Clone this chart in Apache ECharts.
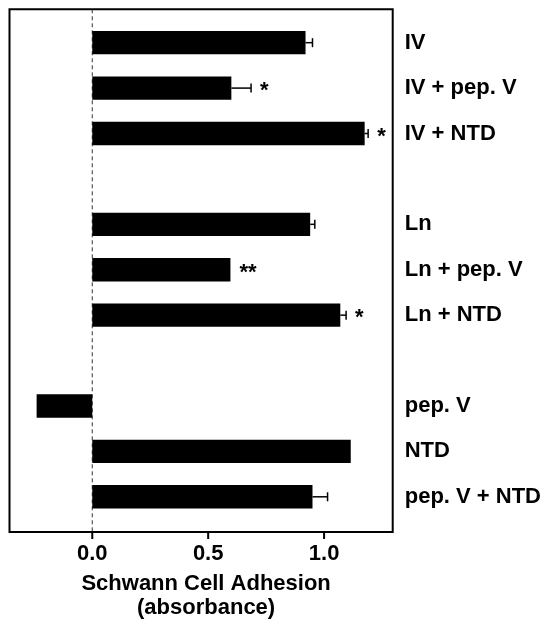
<!DOCTYPE html>
<html>
<head>
<meta charset="utf-8">
<script src="https://cdn.jsdelivr.net/npm/echarts@6/dist/echarts.min.js"></script>
<style>
  html, body { margin: 0; padding: 0; background: #fff; }
  #chart { width: 544px; height: 625px; }
</style>
</head>
<body>
<div id="chart"></div>
<script>
// categories top to bottom, empty strings are the gaps between groups
let categories = ['IV', 'IV + pep. V', 'IV + NTD', '', 'Ln', 'Ln + pep. V', 'Ln + NTD', '', 'pep. V', 'NTD', 'pep. V + NTD'];
let values = [0.92, 0.60, 1.175, null, 0.94, 0.596, 1.07, null, -0.24, 1.115, 0.95];
let errors = [0.03, 0.085, 0.015, null, 0.02, 0, 0.025, null, 0, 0, 0.065];
let marks = ['', '*', '*', '', '', '**', '*', '', '', '', ''];
let xTicks = [0, 0.5, 1.0];

let font = '"Liberation Sans", Arial, sans-serif';
let yMin = -0.735, yMax = 10.775;

let barData = [];
let errData = [];
let markData = [];
values.forEach((v, i) => {
    if (v === null) return;
    barData.push([i, v]);
    if (errors[i] > 0) errData.push([i, v, errors[i]]);
    if (marks[i]) markData.push([i, v + (errors[i] || 0)]);
});
let labelIdx = [];
categories.forEach((c, i) => { if (c) labelIdx.push(i); });

let myChart = echarts.init(document.getElementById('chart'));

let option = {
    backgroundColor: '#fff',
    animation: false,
    grid: {
        left: 9.5, right: 151, top: 9.3, bottom: 93,
        show: true, borderColor: '#000', borderWidth: 2, backgroundColor: 'transparent'
    },
    xAxis: {
        type: 'value',
        position: 'bottom',
        min: -0.357,
        max: 1.296,
        axisLine: { show: false, onZero: false },
        splitLine: { show: false },
        axisTick: { show: false },
        axisLabel: {
            customValues: xTicks,
            formatter: v => v.toFixed(1),
            color: '#000', fontSize: 22, fontWeight: 'bold', fontFamily: font, margin: 11
        },
        name: 'Schwann Cell Adhesion\n(absorbance)',
        nameLocation: 'middle',
        nameGap: 40,
        nameTextStyle: { color: '#000', fontSize: 22, fontWeight: 'bold', fontFamily: font, lineHeight: 24, padding: [0, 0, 0, 10] }
    },
    yAxis: {
        type: 'value',
        inverse: true,
        position: 'right',
        min: yMin,
        max: yMax,
        axisLine: { show: false, onZero: false },
        axisTick: { show: false },
        splitLine: { show: false },
        axisLabel: {
            customValues: labelIdx,
            formatter: v => categories[Math.round(v)],
            color: '#000', fontSize: 22, fontWeight: 'bold', fontFamily: font, margin: 12
        }
    },
    series: [
        {
            // dashed zero line
            type: 'line',
            data: [[0, yMin], [0, yMax]],
            symbol: 'none',
            lineStyle: { color: '#333', width: 1, type: [4, 3] },
            z: 1
        },
        {
            type: 'custom',
            data: barData,
            encode: { x: 1, y: 0 },
            z: 3,
            renderItem: function (params, api) {
                let i = api.value(0), v = api.value(1);
                let s = api.coord([0, i]), e = api.coord([v, i]);
                let h = api.size([0, 1])[1] * 0.515;
                return {
                    type: 'rect',
                    shape: { x: Math.min(s[0], e[0]), y: s[1] - h / 2, width: Math.abs(e[0] - s[0]), height: h },
                    style: { fill: '#000' }
                };
            }
        },
        {
            type: 'custom',
            data: errData,
            encode: { x: 1, y: 0 },
            z: 4,
            renderItem: function (params, api) {
                let i = api.value(0), v = api.value(1), err = api.value(2);
                let a = api.coord([v, i]), b = api.coord([v + err, i]);
                let st = { stroke: '#000', lineWidth: 1.5 };
                return {
                    type: 'group',
                    children: [
                        { type: 'line', shape: { x1: a[0], y1: a[1], x2: b[0], y2: b[1] }, style: st },
                        { type: 'line', shape: { x1: b[0], y1: b[1] - 4.5, x2: b[0], y2: b[1] + 4.5 }, style: st }
                    ]
                };
            }
        },
        {
            // significance asterisks
            type: 'custom',
            data: markData,
            encode: { x: 1, y: 0 },
            z: 5,
            renderItem: function (params, api) {
                let i = api.value(0), v = api.value(1);
                let p = api.coord([v, i]);
                return {
                    type: 'text',
                    x: p[0] + 9,
                    y: p[1] + 3,
                    style: {
                        text: marks[i], fill: '#000', fontSize: 22, fontWeight: 'bold', fontFamily: font,
                        align: 'left', verticalAlign: 'middle'
                    }
                };
            }
        }
    ]
};

myChart.setOption(option);

// x ticks below the frame, placed through the chart's own scale
let tickEls = xTicks.map(t => {
    let p = myChart.convertToPixel({ gridIndex: 0 }, [t, yMax]);
    return {
        type: 'line',
        shape: { x1: p[0], y1: p[1], x2: p[0], y2: p[1] + 7 },
        style: { stroke: '#000', lineWidth: 2 },
        z: 100
    };
});
myChart.setOption({ graphic: tickEls });
</script>
</body>
</html>
